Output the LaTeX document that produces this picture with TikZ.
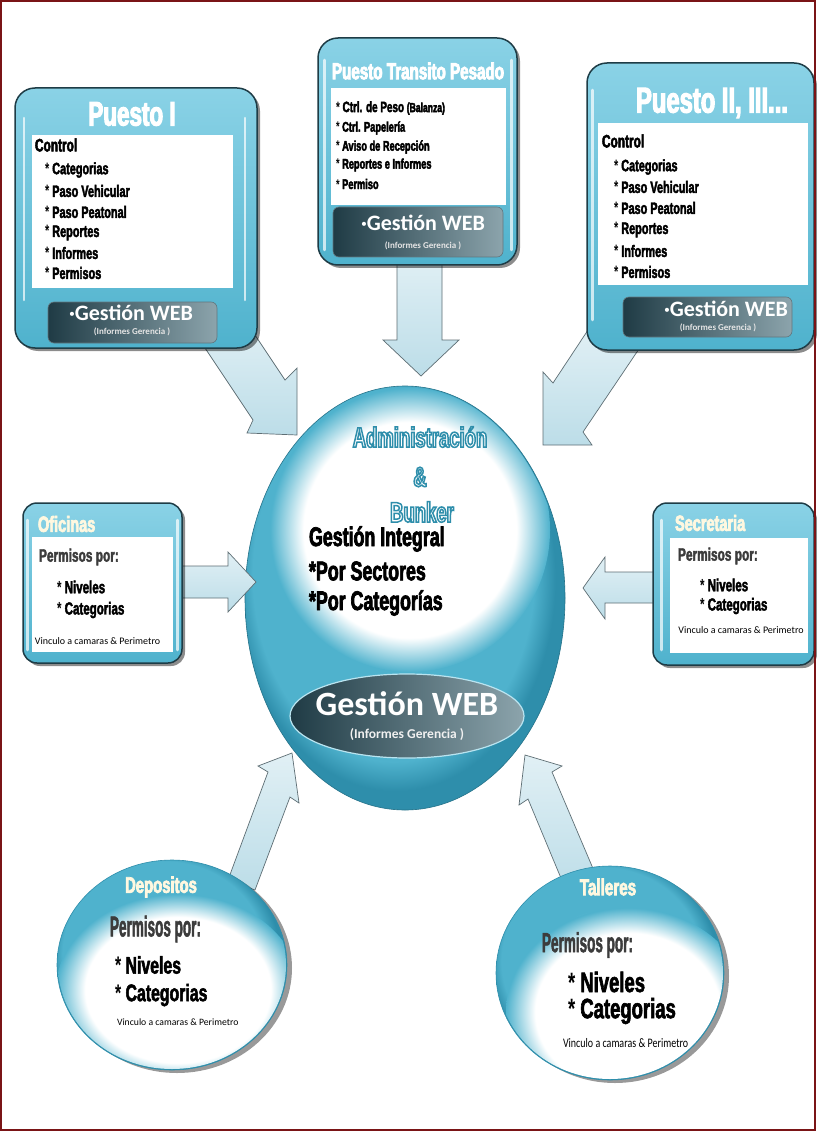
\documentclass[tikz,border=0pt]{standalone}
\usepackage{fontspec}
\usepackage{graphicx}
\setmainfont{Liberation Sans}
\newfontfamily\cond[FakeStretch=0.66]{Liberation Sans}
\newfontfamily\carl{Carlito}
\usetikzlibrary{calc,shadows,shapes.geometric}
\definecolor{tealL}{HTML}{8AD2E6}
\definecolor{tealM}{HTML}{4FB2CD}
\definecolor{tealD}{HTML}{2E8EAB}
\definecolor{edgeD}{HTML}{1E3C46}
\definecolor{barD}{HTML}{1F3B45}
\definecolor{barL}{HTML}{8CA4AC}
\definecolor{arrF}{HTML}{BCDDE8}
\definecolor{arrE}{HTML}{5E6E74}
\definecolor{frameR}{HTML}{7A1416}
\definecolor{perm}{HTML}{3C3C3C}
\definecolor{cream}{HTML}{FFF8E0}
\pgfdeclareradialshading{bigteal}{\pgfpoint{-4bp}{6bp}}{color(0bp)=(tealL); color(10bp)=(tealM); color(22bp)=(tealM); color(25bp)=(tealD); color(40bp)=(tealD)}
\pgfdeclareradialshading{softwhite}{\pgfpoint{0bp}{0bp}}{color(0bp)=(white); color(19bp)=(white); color(25bp)=(tealM); color(40bp)=(tealM)}
\newcommand\fs[1]{\fontsize{#1}{#1}\selectfont}
\newcommand\cb{\cond\bfseries}
% outlined text: #1 stroke rgb, #2 stroke width, #3 text
\newcommand\outl[3]{\special{pdf:literal direct 2 Tr #2 w #1 RG}#3\special{pdf:literal direct 0 Tr}}
% heavier text (stroke in its own colour)
\newcommand\hv[2]{\special{pdf:literal direct 2 Tr #1 w}#2\special{pdf:literal direct 0 Tr}}
\begin{document}
\begin{tikzpicture}[x=1pt,y=-1pt,
  txt/.style={inner sep=0pt, outer sep=0pt},
  frame/.style={draw=edgeD, line width=1.5pt, rounded corners=20pt, top color=tealL, bottom color=tealM, inner sep=0pt,
    drop shadow={shadow xshift=3pt,shadow yshift=-3pt,opacity=.45,fill=black}},
  innerw/.style={fill=white, draw=none, inner sep=0pt},
  bar/.style={rounded corners=6pt, left color=barD, right color=barL, draw=edgeD!70, line width=.6pt, inner sep=0pt},
  blockarrow/.style={top color=arrF!45!white, bottom color=arrF, draw=arrE, line width=.7pt, line join=miter},
  hl/.style={white, opacity=.7, line width=2.5pt, line cap=round},
  item/.style={txt, anchor=west, text=black},
  gw/.style={txt, text=white, font={\carl\bfseries\fs{22}}},
  gr/.style={txt, text=gray!20, font={\carl\bfseries\fs{9}}},
  circ/.style={ellipse, shade, shading=bigteal, draw=tealD, line width=.6pt, inner sep=0pt,
    drop shadow={shadow xshift=5pt,shadow yshift=-3pt,opacity=.4,fill=black}}
]
\useasboundingbox (0,0) rectangle (816,1131);
\fill[white] (0,0) rectangle (816,1131);

% ---------- central ellipse ----------
\node[ellipse, shade, shading=bigteal, draw=tealD!80!black, line width=.6pt, minimum width=320pt, minimum height=424pt] (adm) at (405,598) {};
\begin{scope}
  \clip (405,598) ellipse [x radius=159pt, y radius=211pt];
  \shade[shading=softwhite] (410,530) ellipse [x radius=140pt, y radius=142pt];
\end{scope}
\node[ellipse, left color=barD, right color=barL, draw=tealL!60!white, line width=1.2pt, minimum width=234pt, minimum height=84pt] (web) at (407,716) {};

% ---------- block arrows ----------
\draw[blockarrow] (193,330) -- (245,320) -- (285,380) -- (297,368) -- (297,435) -- (247,433) -- (253,420) -- cycle;
\draw[blockarrow] (397,255) -- (442,255) -- (442,340) -- (459,340) -- (421,376) -- (383,340) -- (397,340) -- cycle;
\draw[blockarrow] (588,330) -- (553,383) -- (543,372) -- (543,445) -- (592,445) -- (583,432) -- (645,340) -- cycle;
\draw[blockarrow] (182,566) -- (228,566) -- (228,552) -- (256,582) -- (228,612) -- (228,598) -- (182,598) -- cycle;
\draw[blockarrow] (655,572) -- (605,572) -- (605,557) -- (583,588) -- (605,619) -- (605,603) -- (655,603) -- cycle;
\draw[blockarrow] (228,880) -- (268,772) -- (258,766) -- (292,753) -- (299,803) -- (290,797) -- (255,890) -- cycle;
\draw[blockarrow] (600,885) -- (552,772) -- (562,766) -- (525,755) -- (519,805) -- (528,799) -- (568,895) -- cycle;

% ---------- Puesto I ----------
\node[frame, minimum width=242pt, minimum height=260pt] (p1) at (136,218) {};
\draw[hl] (24,118) -- (24,300);
\draw[hl] (245,118) -- (245,300);
\node[innerw, minimum width=201pt, minimum height=153pt] (p1w) at (132.5,211.5) {};
\node[bar, minimum width=169pt, minimum height=41pt] (p1b) at (132.5,322.5) {};
\node[txt, text=white, font={\cb\fs{34}}] (p1t) at (132,114) {\hv{1.1}{Puesto I}};
\node[item, font={\cb\fs{18}}] (p1c) at (35,145) {\hv{0.5}{Control}};
\foreach \y/\t [count=\i] in {170/Categorias,191/Paso Vehicular,212/Paso Peatonal,233/Reportes,253/Informes,273/Permisos}
  \node[item, font={\cb\fs{16.5}}] (p1i\i) at (45,\y) {*~\hv{0.4}{\t}};
\node[gw] (p1g) at (131,313) {·Gestión WEB};
\node[gr] (p1r) at (132,332) {(Informes Gerencia )};

% ---------- Puesto Transito Pesado ----------
\node[frame, minimum width=199pt, minimum height=227pt] (pt) at (417.5,151.5) {};
\draw[hl] (324.5,60) -- (324.5,250);
\draw[hl] (511.5,60) -- (511.5,250);
\node[innerw, minimum width=175pt, minimum height=117pt] (ptw) at (418.5,146.5) {};
\node[bar, minimum width=170pt, minimum height=50pt] (ptb) at (418,232) {};
\node[txt, text=white, font={\cb\fs{23}}] (ptt) at (418,71) {\hv{0.8}{Puesto Transito Pesado}};
\node[item, font={\cb\fs{15}}] (pti1) at (336,108) {*~\hv{0.4}{Ctrl. de Peso {\fs{13}(Balanza)}}};
\foreach \y/\t [count=\i from 2] in {128/Ctrl. Papelería,147/Aviso de Recepción,165/Reportes e Informes,184/Permiso}
  \node[item, font={\cb\fs{14}}] (pti\i) at (336,\y) {*~\hv{0.4}{\t}};
\node[gw] (ptg) at (423,223) {·Gestión WEB};
\node[gr] (ptr) at (423,246) {(Informes Gerencia )};

% ---------- Puesto II, III ----------
\node[frame, minimum width=227pt, minimum height=287pt] (p2) at (700.5,206.5) {};
\draw[hl] (592.5,90) -- (592.5,320);
\node[innerw, minimum width=210pt, minimum height=162pt] (p2w) at (703,204) {};
\node[bar, minimum width=169pt, minimum height=40pt] (p2b) at (707.5,317) {};
\node[txt, text=white, font={\cb\fs{36}}] (p2t) at (712,103) {\hv{1.1}{Puesto II, III...}};
\node[item, font={\cb\fs{18}}] (p2c) at (602,141) {\hv{0.5}{Control}};
\foreach \y/\t [count=\i] in {167/Categorias,187/Paso Vehicular,208/Paso Peatonal,230/Reportes,251/Informes,272/Permisos}
  \node[item, font={\cb\fs{16.5}}] (p2i\i) at (614,\y) {*~\hv{0.4}{\t}};
\node[gw] (p2g) at (726,309) {·Gestión WEB};
\node[gr] (p2r) at (718,328) {(Informes Gerencia )};

% ---------- central texts ----------
\node[txt, text=white, font={\cb\fs{28}}] (a1) at (420,437) {\outl{0.18 0.557 0.671}{1.5}{Administración}};
\node[txt, text=white, font={\cb\fs{28}}] (a2) at (420,477) {\outl{0.18 0.557 0.671}{1.5}{\&}};
\node[txt, text=white, font={\cb\fs{28}}] (a3) at (422,512) {\outl{0.18 0.557 0.671}{1.5}{Bunker}};
\node[item, font={\cb\fs{27}}] (g1) at (309,539) {\hv{0.7}{Gestión Integral}};
\node[item, font={\cb\fs{27}}] (g2) at (309,571) {\hv{0.7}{*Por Sectores}};
\node[item, font={\cb\fs{27}}] (g3) at (309,603) {\hv{0.7}{*Por Categorías}};
\node[txt, text=white, font={\carl\bfseries\fs{34}}] (webg) at (407,704) {Gestión WEB};
\node[txt, text=white!88!gray, font={\carl\bfseries\fs{13.5}}] (webr) at (407,735) {(Informes Gerencia )};

% ---------- Oficinas ----------
\node[frame, rounded corners=14pt, minimum width=159pt, minimum height=160pt] (of) at (102.5,583) {};
\draw[hl] (27.5,520) -- (27.5,650);
\draw[hl] (177.5,520) -- (177.5,650);
\node[innerw, minimum width=141pt, minimum height=115pt] (ofw) at (102.5,594.5) {};
\node[item, text=cream, font={\cb\fs{22}}] (oft) at (38,524) {\hv{0.7}{Oficinas}};
\node[item, text=perm, font={\cb\fs{18}}] (ofp) at (39,557) {\hv{0.4}{Permisos por:}};
\node[item, font={\cb\fs{17.5}}] (ofn) at (57,587) {*~\hv{0.4}{Niveles}};
\node[item, font={\cb\fs{17.5}}] (ofk) at (57,610) {*~\hv{0.4}{Categorias}};
\node[txt, font={\carl\fs{10}}] (ofv) at (97.5,641) {Vinculo a camaras \& Perimetro};

% ---------- Secretaria ----------
\node[frame, rounded corners=14pt, minimum width=161pt, minimum height=162pt] (se) at (733.5,584) {};
\draw[hl] (661.5,520) -- (661.5,650);
\node[innerw, minimum width=138pt, minimum height=115pt] (sew) at (739,595.5) {};
\node[item, text=cream, font={\cb\fs{22}}] (set) at (675,523) {\hv{0.7}{Secretaria}};
\node[item, text=perm, font={\cb\fs{18}}] (sep) at (678,556) {\hv{0.4}{Permisos por:}};
\node[item, font={\cb\fs{17.5}}] (sen) at (700,585) {*~\hv{0.4}{Niveles}};
\node[item, font={\cb\fs{17.5}}] (sek) at (700,606) {*~\hv{0.4}{Categorias}};
\node[txt, font={\carl\fs{10}}] (sev) at (741,630) {Vinculo a camaras \& Perimetro};

% ---------- Depositos ----------
\node[circ, minimum width=230pt, minimum height=210pt] (dep) at (172,965) {};
\begin{scope}
  \clip (172,965) ellipse [x radius=114pt, y radius=104pt];
  \shade[shading=softwhite] (178,990) ellipse [x radius=122pt, y radius=96pt];
\end{scope}
\node[txt, text=cream, font={\cb\fs{22.5}}] (dept) at (161,887) {\hv{0.7}{Depositos}};
\node[item, text=perm, font={\cb\fs{20.5}}] (depp) at (110,929) {\scalebox{1}[1.4]{\hv{0.4}{Permisos por:}}};
\node[item, font={\cb\fs{24}}] (depn) at (115,965) {*~\hv{0.5}{Niveles}};
\node[item, font={\cb\fs{24}}] (depk) at (115,995) {*~\hv{0.5}{Categorias}};
\node[item, font={\carl\fs{9.7}}] (depv) at (117,1022) {Vinculo a camaras \& Perimetro};

% ---------- Talleres ----------
\node[circ, minimum width=228pt, minimum height=214pt] (tal) at (610,973) {};
\begin{scope}
  \clip (610,973) ellipse [x radius=113pt, y radius=106pt];
  \shade[shading=softwhite] (628,1012) ellipse [x radius=122pt, y radius=104pt];
\end{scope}
\node[txt, text=cream, font={\cb\fs{23}}] (talt) at (608,887) {\hv{0.7}{Talleres}};
\node[item, text=perm, font={\cb\fs{20.5}}] (talp) at (542,945) {\scalebox{1}[1.35]{\hv{0.4}{Permisos por:}}};
\node[item, font={\cb\fs{28}}] (taln) at (568,982) {*~\hv{0.6}{Niveles}};
\node[item, font={\cb\fs{28}}] (talk) at (568,1011) {*~\hv{0.6}{Categorias}};
\node[item, font={\carl\fs{10}}] (talv) at (563,1043) {\scalebox{1}[1.3]{Vinculo a camaras \& Perimetro}};

% ---------- page frame ----------
\draw[frameR, line width=1.6pt] (0.8,0.8) rectangle (815.2,1130.2);
\end{tikzpicture}
\end{document}
